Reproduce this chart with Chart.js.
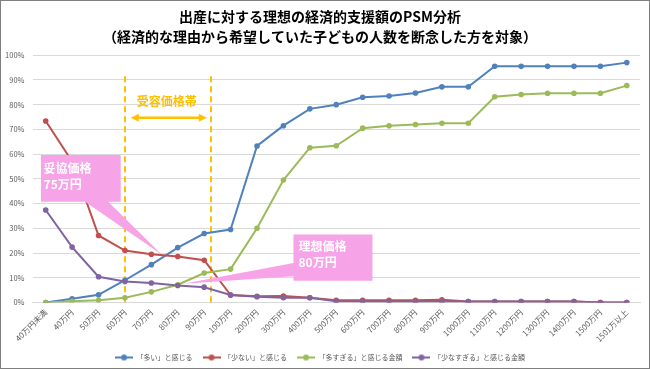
<!DOCTYPE html>
<html><head><meta charset="utf-8">
<script src="https://cdn.jsdelivr.net/npm/chart.js@4.4.0/dist/chart.umd.min.js"></script>
<style>html,body{margin:0;padding:0;background:#fff;} #wrap{width:650px;height:369px;position:relative;}</style>
</head><body><div id="wrap"><canvas id="c" width="650" height="369"></canvas></div>
<script>
const categories = ['40万円未満','40万円','50万円','60万円','70万円','80万円','90万円','100万円','200万円','300万円','400万円','500万円','600万円','700万円','800万円','900万円','1000万円','1100万円','1200万円','1300万円','1400万円','1500万円','1501万以上'];
const seriesNames = ['「多い」と感じる','「少ない」と感じる','「多すぎる」と感じる金額','「少なすぎる」と感じる金額'];
const highValues    = [0,1.5,3.1,9,15.3,22.2,27.9,29.5,63.3,71.5,78.3,80,83,83.5,84.7,87.2,87.2,95.5,95.5,95.5,95.5,95.5,97];
const lowValues     = [73.4,57,27.1,21,19.5,18.6,17.1,3,2.5,2.6,1.9,0.9,0.9,0.9,0.9,1.1,0.4,0.4,0.4,0.4,0.4,0,0];
const tooHighValues = [0,0.5,0.9,1.9,4.3,7.2,11.9,13.5,30,49.5,62.6,63.4,70.5,71.5,72,72.5,72.5,83.2,84.1,84.6,84.6,84.6,87.7];
const tooLowValues  = [37.4,22.4,10.4,8.5,7.9,6.9,6.2,3,2.3,1.9,1.9,0.5,0.4,0.4,0.4,0.4,0.4,0.4,0.4,0.4,0.4,0,0];
const yTicks = [0,10,20,30,40,50,60,70,80,90,100];
const titleLines = ['出産に対する理想の経済的支援額のPSM分析','（経済的な理由から希望していた子どもの人数を断念した方を対象）'];
const bandLabel = '受容価格帯';
const compromiseLabel = ['妥協価格','75万円'];
const idealLabel = ['理想価格','80万円'];

const colors = ['#4F81BD','#C0504D','#9BBB59','#8064A2'];
const FONT = "'Noto Sans CJK JP','Noto Sans',sans-serif";

function legendIcon(color){
  const c = document.createElement('canvas');
  c.width = 18; c.height = 8;
  const g = c.getContext('2d');
  g.strokeStyle = color; g.lineWidth = 2;
  g.beginPath(); g.moveTo(0,4); g.lineTo(18,4); g.stroke();
  g.fillStyle = color; g.beginPath(); g.arc(9,4,3,0,Math.PI*2); g.fill();
  return c;
}
const legendIcons = colors.map(legendIcon);

const allValues = [highValues, lowValues, tooHighValues, tooLowValues];
const datasets = allValues.map((vals,i)=>({
  label: seriesNames[i],
  data: vals,
  borderColor: colors[i],
  backgroundColor: colors[i],
  pointBackgroundColor: colors[i],
  pointBorderColor: colors[i],
  pointStyle: 'circle',
  pointRadius: 2.8,
  pointBorderWidth: 0,
  borderWidth: 2,
  tension: 0,
  order: 4 - i
}));

const bandLines = {from: 3, to: 6.25, top: 91.5};
const bandArrow = {from: 3.22, to: 6.1, y: 74.7};
const bandText = {x: 4.58, y: 81.4};
const callout1 = {left:-0.18, right:2.84, top:59.6, bottom:40.7, base1:1.49, base2:2.37, tipX:4.39, tipY:19.4, textX:-0.08, textY:[54.2,47.8]};
const callout2 = {left:9.38, right:12.37, top:27.5, bottom:8.8, base1:16.0, base2:10.6, tipX:5.21, tipY:7.6, textX:9.57, textY:[22.5,16.3]};

const overlay = {
  id: 'overlay',
  beforeDatasetsDraw(chart){
    const {ctx, scales:{x,y}} = chart;
    ctx.save();
    ctx.strokeStyle = '#FFC000'; ctx.lineWidth = 2; ctx.setLineDash([6,4]);
    [bandLines.from, bandLines.to].forEach(v=>{
      const px = Math.round(x.getPixelForValue(v));
      ctx.beginPath(); ctx.moveTo(px, y.getPixelForValue(bandLines.top)); ctx.lineTo(px, y.getPixelForValue(0)); ctx.stroke();
    });
    ctx.restore();
  },
  afterDatasetsDraw(chart){
    const {ctx, scales:{x,y}} = chart;
    ctx.save();
    const ax1 = x.getPixelForValue(bandArrow.from), ax2 = x.getPixelForValue(bandArrow.to), ay = y.getPixelForValue(bandArrow.y);
    ctx.strokeStyle = '#FFC000'; ctx.fillStyle = '#FFC000'; ctx.lineWidth = 2.5;
    ctx.beginPath(); ctx.moveTo(ax1+5, ay); ctx.lineTo(ax2-5, ay); ctx.stroke();
    ctx.beginPath(); ctx.moveTo(ax1, ay); ctx.lineTo(ax1+8, ay-4); ctx.lineTo(ax1+8, ay+4); ctx.closePath(); ctx.fill();
    ctx.beginPath(); ctx.moveTo(ax2, ay); ctx.lineTo(ax2-8, ay-4); ctx.lineTo(ax2-8, ay+4); ctx.closePath(); ctx.fill();
    ctx.font = 'bold 12px ' + FONT; ctx.textAlign = 'center'; ctx.textBaseline = 'middle';
    ctx.fillText(bandLabel, x.getPixelForValue(bandText.x), y.getPixelForValue(bandText.y));
    const pink = '#F7A3E8';
    let c = callout1;
    let L = x.getPixelForValue(c.left), R = x.getPixelForValue(c.right), T = y.getPixelForValue(c.top), B = y.getPixelForValue(c.bottom);
    ctx.fillStyle = pink;
    ctx.beginPath(); ctx.moveTo(L,T); ctx.lineTo(R,T); ctx.lineTo(R,B);
    ctx.lineTo(x.getPixelForValue(c.base2), B); ctx.lineTo(x.getPixelForValue(c.tipX), y.getPixelForValue(c.tipY));
    ctx.lineTo(x.getPixelForValue(c.base1), B); ctx.lineTo(L,B); ctx.closePath(); ctx.fill();
    ctx.fillStyle = '#fff'; ctx.font = 'bold 12px ' + FONT; ctx.textAlign = 'left';
    compromiseLabel.forEach((t,i)=>ctx.fillText(t, x.getPixelForValue(c.textX), y.getPixelForValue(c.textY[i])));
    c = callout2;
    L = x.getPixelForValue(c.left); R = x.getPixelForValue(c.right); T = y.getPixelForValue(c.top); B = y.getPixelForValue(c.bottom);
    ctx.fillStyle = pink;
    ctx.beginPath(); ctx.moveTo(L,T); ctx.lineTo(R,T); ctx.lineTo(R,B); ctx.lineTo(L,B);
    ctx.lineTo(L, y.getPixelForValue(c.base2)); ctx.lineTo(x.getPixelForValue(c.tipX), y.getPixelForValue(c.tipY));
    ctx.lineTo(L, y.getPixelForValue(c.base1)); ctx.closePath(); ctx.fill();
    ctx.fillStyle = '#fff';
    idealLabel.forEach((t,i)=>ctx.fillText(t, x.getPixelForValue(c.textX), y.getPixelForValue(c.textY[i])));
    ctx.restore();
  },
  afterDraw(chart){
    const ctx = chart.ctx;
    ctx.save(); ctx.strokeStyle = '#7F7F7F'; ctx.lineWidth = 1;
    ctx.strokeRect(0.5,0.5,chart.width-1,chart.height-1); ctx.restore();
  }
};

new Chart(document.getElementById('c'), {
  type: 'line',
  data: { labels: categories, datasets },
  options: {
    responsive: false,
    animation: false,
    layout: { padding: { left: 0, right: 10, top: 0, bottom: -2 } },
    plugins: {
      title: { display: true, text: titleLines, color: '#000', font: { family: FONT, size: 14, weight: 'bold', lineHeight: 1.4 }, padding: { top: 7, bottom: 9 } },
      legend: {
        position: 'bottom',
        labels: {
          usePointStyle: true, pointStyleWidth: 18, padding: 10, color: '#595959', font: { family: FONT, size: 7 },
          generateLabels(chart){
            const items = Chart.defaults.plugins.legend.labels.generateLabels(chart);
            items.forEach(it=>{ it.pointStyle = legendIcons[it.datasetIndex]; });
            return items;
          },
          sort: (a,b)=>a.datasetIndex-b.datasetIndex
        }
      },
      tooltip: { enabled: false }
    },
    scales: {
      x: {
        offset: true,
        afterFit(s){ s.height = 41.5; },
        grid: { display: false, drawTicks: false },
        border: { display: true, color: '#D9D9D9' },
        ticks: { color: '#595959', font: { family: FONT, size: 8 }, minRotation: 45, maxRotation: 45, autoSkip: false, padding: 5 }
      },
      y: {
        min: 0, max: 100,
        afterFit(s){ s.width = 32.5; },
        afterBuildTicks(s){ s.ticks = yTicks.map(v=>({value:v})); },
        grid: { color: '#D9D9D9', drawTicks: false },
        border: { display: false },
        ticks: { color: '#595959', font: { family: FONT, size: 7.5 }, padding: 8, callback: v => v + '%' }
      }
    }
  },
  plugins: [overlay]
});
</script></body></html>
